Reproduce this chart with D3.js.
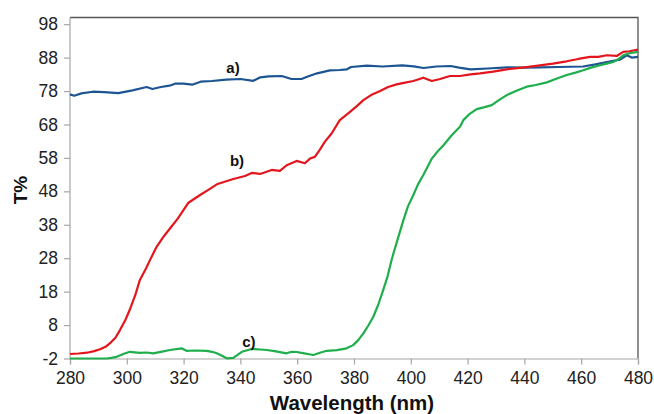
<!DOCTYPE html>
<html>
<head>
<meta charset="utf-8">
<script src="https://cdn.jsdelivr.net/npm/d3@7"></script>
<style>
  html, body { margin: 0; padding: 0; background: #fff; }
  svg { display: block; }
</style>
</head>
<body>
<svg id="chart" width="654" height="414"></svg>
<script>
// ---- data ----
const xTicks = [280, 300, 320, 340, 360, 380, 400, 420, 440, 460, 480];
const yTicks = [-2, 8, 18, 28, 38, 48, 58, 68, 78, 88, 98];

const wlA = [280, 281.5, 284, 288, 292, 297, 302, 307, 309, 312, 315, 317, 320, 323, 326, 330, 335, 340, 344.5, 347, 350, 354.5, 358, 361.5, 364, 367, 371.5, 375, 377.5, 379, 384.5, 390, 397, 401, 404.5, 409, 414, 417, 421, 427, 434, 440, 445.5, 452, 460.7, 465, 469, 473.7, 476, 477.8, 480];
const tA  = [77.0, 76.6, 77.3, 77.8, 77.7, 77.4, 78.2, 79.2, 78.6, 79.2, 79.6, 80.2, 80.2, 79.9, 80.8, 81.0, 81.4, 81.6, 81.05, 82.1, 82.4, 82.5, 81.6, 81.6, 82.4, 83.3, 84.2, 84.3, 84.5, 85.2, 85.6, 85.35, 85.7, 85.4, 84.9, 85.35, 85.5, 85.0, 84.5, 84.75, 85.1, 85.0, 85.1, 85.2, 85.35, 86.0, 86.7, 87.4, 88.7, 88.0, 88.2];

const wlB = [280, 283, 286, 288.5, 290.6, 292.5, 294, 296, 297.6, 299.5, 301, 303, 304.6, 306.8, 308.2, 310.5, 313, 315.2, 318, 321.7, 325.8, 329, 331.7, 335, 337.5, 341.6, 344, 346.9, 349, 351, 353.9, 356.3, 359.8, 362.7, 364.5, 366.2, 368, 369.7, 372.1, 375, 378.6, 381, 383.3, 386, 389.2, 392, 395, 398, 400.9, 404.4, 407.4, 410.3, 413.8, 417.3, 421, 424.4, 429, 433.8, 440, 445.5, 450, 454.9, 459, 463.1, 466, 469, 472.5, 474.8, 477, 480];
const tB  = [-0.65, -0.5, -0.27, 0.2, 0.75, 1.5, 2.5, 4.2, 6.5, 9.5, 12.5, 17, 21.5, 25.0, 27.5, 31.4, 34.5, 36.9, 39.9, 44.6, 46.9, 48.6, 50.1, 51.0, 51.7, 52.6, 53.5, 53.2, 53.8, 54.4, 54.1, 55.8, 57.1, 56.4, 57.8, 58.3, 60.5, 62.8, 65.3, 69.3, 71.8, 73.5, 75.3, 76.8, 78.0, 79.2, 80.0, 80.5, 81.0, 82.0, 81.0, 81.6, 82.5, 82.5, 83.0, 83.3, 83.8, 84.5, 85.1, 85.7, 86.2, 86.9, 87.6, 88.2, 88.2, 88.7, 88.5, 89.7, 89.9, 90.4];

const wlC = [280, 286, 292.9, 294.5, 296.4, 299, 301.1, 304.6, 307, 309.3, 312, 315.2, 319.3, 321, 324, 328.1, 330, 331.7, 333.5, 335.2, 337.5, 339, 340.5, 344, 347, 349.3, 352, 356.3, 358, 359.8, 362, 365.7, 368, 370.4, 374, 377.4, 379.7, 381.5, 383.3, 385, 386.8, 388.5, 390.3, 391.8, 393.3, 395.3, 397.4, 399, 400.9, 402.5, 404.4, 406, 407.4, 409.5, 411.5, 414.4, 417.3, 418.5, 420.5, 423.2, 426, 428.5, 431, 433.8, 437, 440.8, 444, 447.9, 451, 454.9, 458, 460.7, 463.5, 466.6, 469, 471.3, 473, 474.8, 477, 480];
const tC  = [-2.0, -2.0, -2.0, -1.8, -1.5, -0.6, 0.0, -0.3, -0.2, -0.45, 0.0, 0.55, 1.05, 0.3, 0.4, 0.3, 0.0, -0.45, -1.2, -1.95, -1.8, -0.9, 0.0, 0.85, 0.7, 0.55, 0.2, -0.45, 0.0, -0.05, -0.4, -0.95, -0.3, 0.3, 0.5, 1.05, 2.0, 3.5, 5.5, 7.8, 10.5, 14, 18.5, 22.5, 27.7, 33.5, 39.4, 43.5, 46.9, 50.0, 52.9, 55.5, 57.8, 60.0, 61.8, 64.8, 67.3, 69.3, 71.0, 72.6, 73.2, 73.8, 75.3, 76.8, 78.0, 79.3, 79.8, 80.6, 81.6, 82.8, 83.5, 84.2, 85.0, 85.7, 86.2, 86.7, 87.5, 88.7, 89.3, 89.7];

const seriesLabels = ["a)", "b)", "c)"];
const labelPos = [[337.4, 83.3], [338.8, 55.6], [343.0, 1.4]]; // [nm, T%] text baseline anchors

// ---- layout ----
const svg = d3.select("#chart");
const x = d3.scaleLinear().domain([280, 480]).range([70, 638]);
const y = d3.scaleLinear().domain([-2, 100]).range([358.5, 17.5]);

const font = "'Liberation Sans', Arial, sans-serif";

// frame: top & right dark border
svg.append("path")
  .attr("d", `M${x(280)},${y(100)}H${x(480)}V${y(-2)}`)
  .attr("fill", "none").attr("stroke", "#555").attr("stroke-width", 1.3);

// axes
const fmt = d => String(d);
const xAxis = d3.axisBottom(x).tickValues(xTicks).tickSize(6).tickPadding(6).tickFormat(fmt);
const yAxis = d3.axisLeft(y).tickValues(yTicks).tickSize(6).tickPadding(6).tickFormat(fmt);

const gx = svg.append("g").attr("transform", `translate(0,${y(-2)})`).call(xAxis);
const gy = svg.append("g").attr("transform", `translate(${x(280)},0)`).call(yAxis);
gy.select(".domain").attr("d", `M0,${y(-2)}V${y(100)}`);
[gx, gy].forEach(g => {
  g.select(".domain").attr("stroke", "#a6a6a6").attr("stroke-width", 1.2);
  g.selectAll(".tick line").attr("stroke", "#a6a6a6").attr("stroke-width", 1.2);
  g.selectAll(".tick text").attr("fill", "#222").style("font-family", font).style("font-size", "17.5px");
});
gx.selectAll(".tick text").attr("dy", "0.75em");

// lines
const line = d3.line().x(d => x(d[0])).y(d => y(d[1]));
const series = [
  { wl: wlA, t: tA, color: "#1c5592" },
  { wl: wlB, t: tB, color: "#e3161d" },
  { wl: wlC, t: tC, color: "#1eae4c" }
];
series.forEach(s => {
  svg.append("path")
    .datum(s.wl.map((w, i) => [w, s.t[i]]))
    .attr("d", line)
    .attr("fill", "none")
    .attr("stroke", s.color)
    .attr("stroke-width", 2.2)
    .attr("stroke-linejoin", "round");
});

// series labels
seriesLabels.forEach((lab, i) => {
  svg.append("text")
    .attr("x", x(labelPos[i][0]))
    .attr("y", y(labelPos[i][1]))
    .attr("text-anchor", "middle")
    .style("font-family", font)
    .style("font-weight", "bold")
    .style("font-size", "15px")
    .attr("fill", "#111")
    .text(lab);
});

// axis titles
svg.append("text")
  .attr("x", 352).attr("y", 410)
  .attr("text-anchor", "middle")
  .style("font-family", font).style("font-weight", "bold").style("font-size", "20.5px")
  .attr("fill", "#111")
  .text("Wavelength (nm)");

svg.append("text")
  .attr("transform", `translate(27,${(y(-2) + y(100)) / 2 + 2}) rotate(-90)`)
  .attr("text-anchor", "middle")
  .style("font-family", font).style("font-weight", "bold").style("font-size", "19px")
  .attr("fill", "#111")
  .text("T%");
</script>
</body>
</html>
